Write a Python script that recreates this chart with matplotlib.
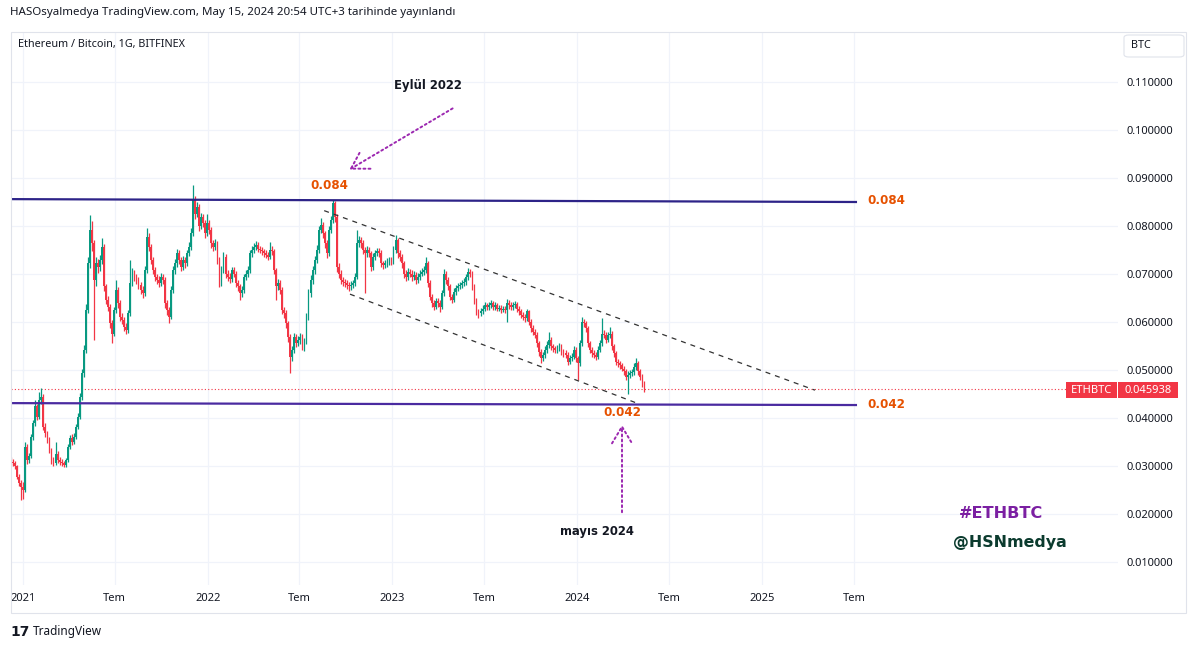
import numpy as np
import pandas as pd
import matplotlib
matplotlib.use("Agg")
import matplotlib.pyplot as plt
import matplotlib.dates as mdates
from matplotlib.patches import Rectangle, FancyBboxPatch, FancyArrowPatch

# ETH/BTC (BITFINEX), 4 günlük mumlar
start = "2020-12-08"
first_open = 0.0312
close = [
    0.0309, 0.0306, 0.0299, 0.0278, 0.0264, 0.0257, 0.0250, 0.0340, 0.0313, 0.0320,
    0.0361, 0.0389, 0.0424, 0.0403, 0.0438, 0.0444, 0.0382, 0.0368, 0.0354, 0.0333,
    0.0312, 0.0306, 0.0326, 0.0312, 0.0309, 0.0306, 0.0302, 0.0312, 0.0340, 0.0358,
    0.0351, 0.0361, 0.0382, 0.0403, 0.0444, 0.0493, 0.0542, 0.0625, 0.0722, 0.0792,
    0.0764, 0.0688, 0.0722, 0.0715, 0.0729, 0.0757, 0.0674, 0.0646, 0.0632, 0.0597,
    0.0576, 0.0625, 0.0667, 0.0639, 0.0611, 0.0604, 0.0590, 0.0583, 0.0618, 0.0681,
    0.0701, 0.0694, 0.0688, 0.0677, 0.0667, 0.0660, 0.0708, 0.0778, 0.0757, 0.0729,
    0.0708, 0.0694, 0.0688, 0.0681, 0.0694, 0.0688, 0.0639, 0.0625, 0.0611, 0.0667,
    0.0708, 0.0722, 0.0743, 0.0729, 0.0715, 0.0729, 0.0722, 0.0743, 0.0757, 0.0785,
    0.0854, 0.0826, 0.0840, 0.0799, 0.0819, 0.0806, 0.0785, 0.0806, 0.0792, 0.0764,
    0.0757, 0.0764, 0.0729, 0.0681, 0.0708, 0.0736, 0.0701, 0.0694, 0.0690, 0.0708,
    0.0701, 0.0681, 0.0674, 0.0660, 0.0667, 0.0694, 0.0701, 0.0708, 0.0743, 0.0750,
    0.0757, 0.0760, 0.0753, 0.0750, 0.0747, 0.0743, 0.0740, 0.0736, 0.0750, 0.0747,
    0.0708, 0.0674, 0.0681, 0.0667, 0.0625, 0.0618, 0.0597, 0.0569, 0.0528, 0.0542,
    0.0569, 0.0556, 0.0562, 0.0569, 0.0550, 0.0560, 0.0610, 0.0660, 0.0688, 0.0708,
    0.0729, 0.0750, 0.0792, 0.0802, 0.0785, 0.0764, 0.0743, 0.0792, 0.0813, 0.0847,
    0.0819, 0.0715, 0.0701, 0.0688, 0.0684, 0.0681, 0.0677, 0.0674, 0.0677, 0.0681,
    0.0694, 0.0764, 0.0771, 0.0764, 0.0750, 0.0743, 0.0750, 0.0743, 0.0715, 0.0736,
    0.0743, 0.0747, 0.0743, 0.0722, 0.0719, 0.0722, 0.0726, 0.0729, 0.0726, 0.0750,
    0.0771, 0.0743, 0.0736, 0.0722, 0.0701, 0.0694, 0.0705, 0.0701, 0.0694, 0.0698,
    0.0688, 0.0694, 0.0701, 0.0705, 0.0708, 0.0722, 0.0681, 0.0653, 0.0639, 0.0632,
    0.0643, 0.0639, 0.0632, 0.0660, 0.0701, 0.0688, 0.0674, 0.0653, 0.0646, 0.0663,
    0.0670, 0.0674, 0.0677, 0.0681, 0.0684, 0.0694, 0.0705, 0.0701, 0.0674, 0.0646,
    0.0622, 0.0618, 0.0622, 0.0628, 0.0635, 0.0632, 0.0635, 0.0639, 0.0632, 0.0635,
    0.0628, 0.0630, 0.0625, 0.0628, 0.0625, 0.0639, 0.0635, 0.0632, 0.0635, 0.0638,
    0.0628, 0.0622, 0.0615, 0.0611, 0.0608, 0.0622, 0.0601, 0.0587, 0.0580, 0.0573,
    0.0556, 0.0538, 0.0524, 0.0531, 0.0542, 0.0552, 0.0563, 0.0549, 0.0545, 0.0542,
    0.0545, 0.0549, 0.0538, 0.0535, 0.0532, 0.0517, 0.0524, 0.0528, 0.0542, 0.0524,
    0.0514, 0.0556, 0.0601, 0.0597, 0.0587, 0.0556, 0.0542, 0.0535, 0.0531, 0.0528,
    0.0542, 0.0556, 0.0576, 0.0573, 0.0563, 0.0573, 0.0576, 0.0549, 0.0535, 0.0517,
    0.0514, 0.0510, 0.0503, 0.0497, 0.0486, 0.0490, 0.0493, 0.0496, 0.0507, 0.0514,
    0.0497, 0.0486, 0.0472, 0.045938,
]
high = [
    0.0318, 0.0315, 0.0311, 0.0303, 0.0284, 0.0270, 0.0266, 0.0350, 0.0345, 0.0328,
    0.0366, 0.0396, 0.0438, 0.0430, 0.0455, 0.0462, 0.0449, 0.0390, 0.0373, 0.0360,
    0.0338, 0.0318, 0.0351, 0.0331, 0.0318, 0.0314, 0.0311, 0.0317, 0.0345, 0.0364,
    0.0366, 0.0368, 0.0388, 0.0410, 0.0452, 0.0502, 0.0553, 0.0638, 0.0736, 0.0823,
    0.0810, 0.0770, 0.0735, 0.0731, 0.0740, 0.0774, 0.0762, 0.0680, 0.0654, 0.0638,
    0.0604, 0.0632, 0.0688, 0.0672, 0.0645, 0.0618, 0.0610, 0.0597, 0.0625, 0.0729,
    0.0712, 0.0708, 0.0700, 0.0694, 0.0683, 0.0674, 0.0716, 0.0795, 0.0786, 0.0763,
    0.0735, 0.0714, 0.0701, 0.0695, 0.0702, 0.0700, 0.0693, 0.0646, 0.0631, 0.0674,
    0.0716, 0.0731, 0.0752, 0.0749, 0.0735, 0.0737, 0.0736, 0.0750, 0.0766, 0.0795,
    0.0885, 0.0862, 0.0851, 0.0846, 0.0828, 0.0825, 0.0812, 0.0826, 0.0813, 0.0798,
    0.0771, 0.0772, 0.0769, 0.0735, 0.0716, 0.0745, 0.0741, 0.0709, 0.0702, 0.0715,
    0.0714, 0.0707, 0.0688, 0.0680, 0.0675, 0.0701, 0.0709, 0.0716, 0.0751, 0.0759,
    0.0765, 0.0768, 0.0766, 0.0759, 0.0756, 0.0753, 0.0750, 0.0746, 0.0767, 0.0758,
    0.0752, 0.0713, 0.0690, 0.0687, 0.0672, 0.0632, 0.0624, 0.0603, 0.0574, 0.0551,
    0.0577, 0.0575, 0.0571, 0.0578, 0.0574, 0.0567, 0.0618, 0.0668, 0.0697, 0.0716,
    0.0737, 0.0760, 0.0800, 0.0816, 0.0809, 0.0790, 0.0770, 0.0799, 0.0821, 0.0855,
    0.0852, 0.0824, 0.0722, 0.0708, 0.0694, 0.0690, 0.0687, 0.0684, 0.0685, 0.0688,
    0.0702, 0.0792, 0.0780, 0.0778, 0.0770, 0.0757, 0.0758, 0.0756, 0.0748, 0.0744,
    0.0751, 0.0755, 0.0754, 0.0749, 0.0728, 0.0729, 0.0733, 0.0736, 0.0735, 0.0758,
    0.0781, 0.0776, 0.0750, 0.0742, 0.0727, 0.0708, 0.0712, 0.0711, 0.0708, 0.0706,
    0.0704, 0.0702, 0.0708, 0.0712, 0.0716, 0.0735, 0.0727, 0.0687, 0.0659, 0.0645,
    0.0650, 0.0649, 0.0645, 0.0667, 0.0710, 0.0707, 0.0694, 0.0679, 0.0659, 0.0670,
    0.0677, 0.0681, 0.0684, 0.0688, 0.0691, 0.0701, 0.0712, 0.0710, 0.0706, 0.0680,
    0.0651, 0.0628, 0.0629, 0.0635, 0.0641, 0.0640, 0.0642, 0.0646, 0.0644, 0.0641,
    0.0640, 0.0636, 0.0635, 0.0634, 0.0633, 0.0647, 0.0645, 0.0641, 0.0641, 0.0644,
    0.0642, 0.0633, 0.0627, 0.0620, 0.0617, 0.0628, 0.0626, 0.0607, 0.0593, 0.0586,
    0.0579, 0.0561, 0.0543, 0.0538, 0.0549, 0.0560, 0.0580, 0.0568, 0.0555, 0.0551,
    0.0552, 0.0556, 0.0554, 0.0544, 0.0541, 0.0537, 0.0531, 0.0535, 0.0549, 0.0547,
    0.0530, 0.0563, 0.0611, 0.0607, 0.0603, 0.0592, 0.0561, 0.0548, 0.0541, 0.0537,
    0.0549, 0.0563, 0.0609, 0.0583, 0.0579, 0.0580, 0.0589, 0.0581, 0.0554, 0.0540,
    0.0523, 0.0519, 0.0515, 0.0508, 0.0502, 0.0497, 0.0500, 0.0503, 0.0514, 0.0524,
    0.0519, 0.0502, 0.0491, 0.0478,
]
low = [
    0.0303, 0.0300, 0.0293, 0.0272, 0.0258, 0.0229, 0.0232, 0.0246, 0.0305, 0.0306,
    0.0316, 0.0355, 0.0384, 0.0396, 0.0398, 0.0430, 0.0376, 0.0360, 0.0347, 0.0327,
    0.0305, 0.0299, 0.0302, 0.0306, 0.0303, 0.0300, 0.0297, 0.0298, 0.0308, 0.0335,
    0.0344, 0.0346, 0.0356, 0.0377, 0.0398, 0.0438, 0.0486, 0.0536, 0.0618, 0.0712,
    0.0748, 0.0563, 0.0676, 0.0703, 0.0707, 0.0721, 0.0665, 0.0637, 0.0622, 0.0588,
    0.0556, 0.0570, 0.0619, 0.0630, 0.0603, 0.0596, 0.0582, 0.0575, 0.0578, 0.0612,
    0.0674, 0.0686, 0.0680, 0.0669, 0.0658, 0.0651, 0.0655, 0.0702, 0.0748, 0.0720,
    0.0700, 0.0686, 0.0679, 0.0673, 0.0675, 0.0679, 0.0630, 0.0615, 0.0597, 0.0606,
    0.0661, 0.0700, 0.0715, 0.0720, 0.0706, 0.0709, 0.0713, 0.0716, 0.0737, 0.0750,
    0.0779, 0.0815, 0.0818, 0.0790, 0.0793, 0.0797, 0.0776, 0.0779, 0.0783, 0.0755,
    0.0748, 0.0750, 0.0720, 0.0672, 0.0674, 0.0702, 0.0692, 0.0685, 0.0681, 0.0684,
    0.0693, 0.0673, 0.0665, 0.0646, 0.0652, 0.0661, 0.0687, 0.0694, 0.0703, 0.0736,
    0.0744, 0.0750, 0.0746, 0.0743, 0.0740, 0.0736, 0.0733, 0.0729, 0.0731, 0.0739,
    0.0699, 0.0646, 0.0667, 0.0659, 0.0616, 0.0609, 0.0588, 0.0559, 0.0493, 0.0519,
    0.0536, 0.0547, 0.0549, 0.0555, 0.0541, 0.0540, 0.0555, 0.0604, 0.0653, 0.0680,
    0.0701, 0.0722, 0.0744, 0.0785, 0.0776, 0.0755, 0.0734, 0.0738, 0.0785, 0.0807,
    0.0808, 0.0705, 0.0692, 0.0679, 0.0676, 0.0673, 0.0669, 0.0665, 0.0667, 0.0670,
    0.0675, 0.0689, 0.0756, 0.0755, 0.0742, 0.0660, 0.0736, 0.0735, 0.0707, 0.0709,
    0.0729, 0.0737, 0.0735, 0.0714, 0.0711, 0.0712, 0.0715, 0.0719, 0.0718, 0.0720,
    0.0744, 0.0734, 0.0728, 0.0713, 0.0692, 0.0686, 0.0688, 0.0693, 0.0686, 0.0688,
    0.0680, 0.0682, 0.0688, 0.0695, 0.0698, 0.0702, 0.0672, 0.0645, 0.0631, 0.0624,
    0.0627, 0.0631, 0.0621, 0.0627, 0.0655, 0.0680, 0.0666, 0.0645, 0.0639, 0.0641,
    0.0657, 0.0664, 0.0668, 0.0671, 0.0675, 0.0678, 0.0688, 0.0693, 0.0666, 0.0638,
    0.0614, 0.0608, 0.0612, 0.0616, 0.0622, 0.0625, 0.0626, 0.0629, 0.0626, 0.0626,
    0.0622, 0.0622, 0.0619, 0.0620, 0.0619, 0.0601, 0.0628, 0.0625, 0.0626, 0.0629,
    0.0621, 0.0615, 0.0609, 0.0604, 0.0601, 0.0603, 0.0594, 0.0580, 0.0573, 0.0566,
    0.0548, 0.0530, 0.0514, 0.0518, 0.0526, 0.0536, 0.0546, 0.0541, 0.0538, 0.0535,
    0.0536, 0.0539, 0.0531, 0.0528, 0.0525, 0.0510, 0.0512, 0.0518, 0.0523, 0.0517,
    0.0479, 0.0509, 0.0550, 0.0589, 0.0579, 0.0548, 0.0535, 0.0528, 0.0524, 0.0521,
    0.0523, 0.0537, 0.0550, 0.0566, 0.0556, 0.0558, 0.0567, 0.0541, 0.0528, 0.0510,
    0.0507, 0.0503, 0.0497, 0.0490, 0.0479, 0.0451, 0.0484, 0.0487, 0.0490, 0.0501,
    0.0490, 0.0479, 0.0465, 0.0455,
]
last_price = 0.045938

# eksenler
view = ["2020-12-08", "2026-12-05"]
price_lim = [0.005208, 0.120417]
price_ticks = [0.01, 0.02, 0.03, 0.04, 0.05, 0.06, 0.07, 0.08, 0.09, 0.10, 0.11]
tick_dates = ["2021-01-01", "2021-07-01", "2022-01-01", "2022-07-01", "2023-01-01",
              "2023-07-01", "2024-01-01", "2024-07-01", "2025-01-01", "2025-07-01"]
tick_labels = ["2021", "Tem", "2022", "Tem", "2023", "Tem", "2024", "Tem", "2025", "Tem"]

# çizimler: yatay seviyeler ve düşen kanal
level_dates = ["2020-12-06", "2025-07-05"]
level_top = [0.0856, 0.0850]
level_bot = [0.0431, 0.0427]
chan_up_dates = ["2022-08-19", "2025-04-15"]
chan_up = [0.0832, 0.0458]
chan_dn_dates = ["2022-10-09", "2024-04-28"]
chan_dn = [0.0658, 0.0431]

W, H = 1199, 649
UP, DOWN = "#089981", "#f23645"
TXT = "#131722"
UI = "Noto Sans"


def P(x, y):
    # piksel -> figür oranı
    return (x / W, 1 - y / H)


def d(s):
    return mdates.date2num(pd.Timestamp(s))


fig = plt.figure(figsize=(W / 100, H / 100), dpi=100)
fig.patch.set_facecolor("white")
ax = fig.add_axes([11 / W, 1 - 585 / H, (1118 - 11) / W, (585 - 32) / H])

t = mdates.date2num(pd.date_range(start, periods=len(close), freq="4D"))
c = np.array(close)
o = np.r_[first_open, c[:-1]]
col = np.where(c >= o, UP, DOWN)
ax.vlines(t, low, high, colors=col, lw=0.9, zorder=3)
body = np.maximum(np.abs(c - o), 0.0002)
ax.bar(t, body, bottom=np.minimum(o, c), width=3.6, color=col, linewidth=0, zorder=3)

ax.set_xlim(d(view[0]), d(view[1]))
ax.set_ylim(*price_lim)

# seviye çizgileri
ld = [d(s) for s in level_dates]
ax.plot(ld, level_top, color="#2d2388", lw=1.6, zorder=4)
ax.plot(ld, level_bot, color="#4a2aa0", lw=1.6, zorder=4)
ax.plot([d(s) for s in chan_up_dates], chan_up, color="#333333", lw=0.9,
        ls=(0, (4, 4)), zorder=4)
ax.plot([d(s) for s in chan_dn_dates], chan_dn, color="#333333", lw=0.9,
        ls=(0, (4, 4)), zorder=4)
ax.axhline(last_price, color=DOWN, lw=0.8, ls=(0, (1, 2)), zorder=2)

# eksen görünümü
for s in ax.spines.values():
    s.set_visible(False)
ax.set_yticks(price_ticks)
ax.yaxis.tick_right()
ax.set_yticklabels([f"{v:.6f}" for v in price_ticks])
ax.set_xticks([d(s) for s in tick_dates])
ax.set_xticklabels(tick_labels)
ax.tick_params(axis="both", length=0, labelsize=8, labelcolor=TXT)
ax.tick_params(axis="y", pad=6)
ax.tick_params(axis="x", pad=6)
for lbl in ax.get_xticklabels() + ax.get_yticklabels():
    lbl.set_fontfamily(UI)
for lbl in ax.get_xticklabels():
    if lbl.get_text() != "Tem":
        lbl.set_fontweight("bold")
ax.grid(True, color="#f0f3fa", lw=0.9, zorder=0)
ax.set_axisbelow(True)

# çerçeve ve başlıklar
fig.add_artist(Rectangle(P(11, 613), (1186 - 11) / W, (613 - 32) / H,
                         transform=fig.transFigure, fill=False,
                         edgecolor="#e0e3eb", lw=0.8))
fig.text(*P(10, 13), "HASOsyalmedya TradingView.com, May 15, 2024 20:54 UTC+3 tarihinde yayınlandı",
         fontsize=8.3, family=UI, color=TXT, va="center")
fig.text(*P(18, 44), "Ethereum / Bitcoin, 1G, BITFINEX", fontsize=7.8, family=UI,
         color=TXT, va="center")
fig.add_artist(FancyBboxPatch(P(1124, 57), 60 / W, 22 / H, transform=fig.transFigure,
                              boxstyle="round,pad=0,rounding_size=0.004",
                              facecolor="white", edgecolor="#e0e3eb", lw=0.8))
fig.text(*P(1131, 45), "BTC", fontsize=7.8, family=UI, color=TXT, va="center")

# son fiyat etiketi
fig.add_artist(Rectangle(P(1066, 398), 51 / W, 16 / H, transform=fig.transFigure,
                         facecolor=DOWN, edgecolor="none"))
fig.add_artist(Rectangle(P(1118, 398), 60 / W, 16 / H, transform=fig.transFigure,
                         facecolor=DOWN, edgecolor="none"))
fig.text(*P(1091, 390), "ETHBTC", fontsize=8, family=UI, color="white",
         ha="center", va="center")
fig.text(*P(1148, 390), f"{last_price:.6f}", fontsize=8, family=UI, color="white",
         ha="center", va="center")

# notlar
ORANGE = "#e65100"
PURPLE = "#9c27b0"
bold = dict(family="DejaVu Sans", fontweight="bold", va="center")
fig.text(*P(329, 185), "0.084", fontsize=8.6, color=ORANGE, ha="center", **bold)
fig.text(*P(867, 201), "0.084", fontsize=8.6, color=ORANGE, ha="left", **bold)
fig.text(*P(867, 404), "0.042", fontsize=8.6, color=ORANGE, ha="left", **bold)
fig.text(*P(622, 413), "0.042", fontsize=8.6, color=ORANGE, ha="center", **bold)
fig.text(*P(428, 86), "Eylül 2022", fontsize=8.4, color="#131722", ha="center", **bold)
fig.text(*P(597, 532), "mayıs 2024", fontsize=8.4, color="#131722", ha="center", **bold)
fig.text(*P(1001, 513), "#ETHBTC", fontsize=11.6, color="#7b1fa2", ha="center", **bold)
fig.text(*P(1010, 543), "@HSNmedya", fontsize=11.4, color="#0b3b2e", ha="center", **bold)

for a, b in [((455, 107), (347, 171)), ((622, 515), (622, 422))]:
    fig.add_artist(FancyArrowPatch(P(*a), P(*b), transform=fig.transFigure,
                                   arrowstyle="->,head_length=0.75,head_width=0.45",
                                   mutation_scale=16, color=PURPLE, lw=1.4,
                                   linestyle=(0, (1, 1.6))))

# TradingView logosu
fig.text(*P(10, 632), "17", fontsize=10, fontweight="heavy", family="DejaVu Sans",
         color="#131722", va="center")
fig.text(*P(33, 632), "TradingView", fontsize=8.5, family=UI, color="#131722", va="center")

fig.savefig("out.png", dpi=100, facecolor="white")
